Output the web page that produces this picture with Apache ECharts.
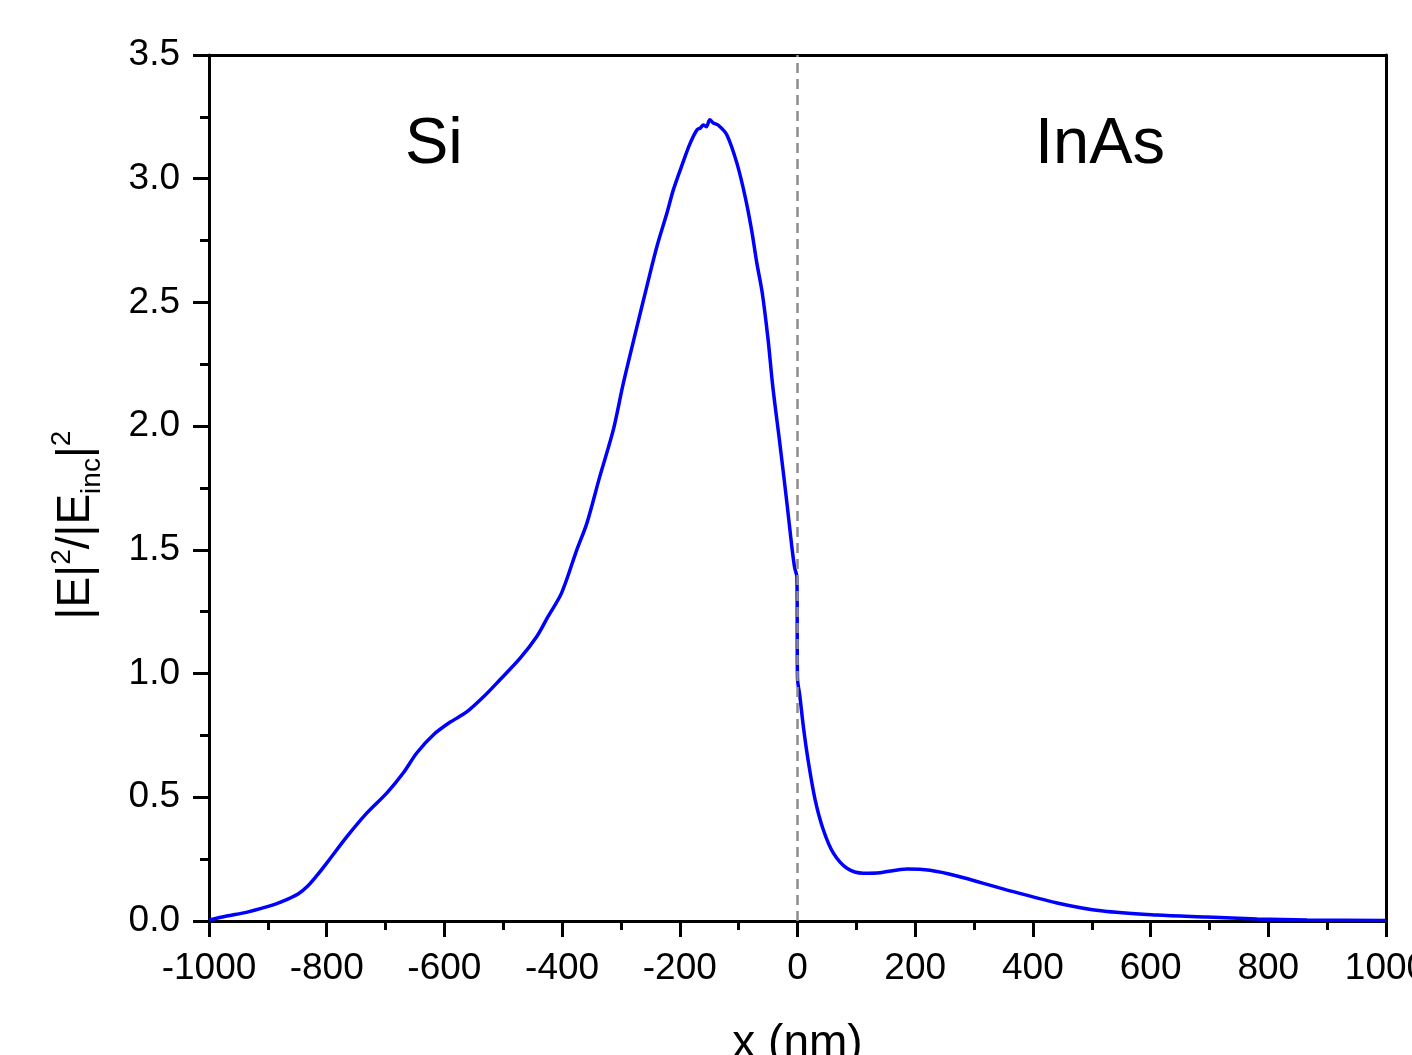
<!DOCTYPE html>
<html>
<head>
<meta charset="utf-8">
<script src="https://cdn.jsdelivr.net/npm/echarts@6/dist/echarts.min.js"></script>
<style>
html,body{margin:0;padding:0;background:#fff;overflow:hidden;}
#chart{width:1412px;height:1055px;}
</style>
</head>
<body>
<div id="chart"></div>
<script>
// Position along the x axis (nm)
var xPos = [-1000, -970, -935, -891, -862, -848, -834, -818, -800, -766, -732, -698, -670, -647, -619, -590, -562, -534, -506, -472, -443, -424, -401, -375, -358, -336, -313, -296, -273, -256, -239, -222, -211, -194, -183, -171, -165, -160, -155, -149, -143, -135, -120, -103, -89, -78, -69, -60, -50, -42, -30, -18, -10, -5, -1, 0, 4, 10, 18, 30, 44, 61, 84, 112, 140, 186, 225, 271, 349, 441, 519, 611, 696, 781, 866, 1000];
// Normalized field intensity |E|^2/|Einc|^2
var intensity = [0.004, 0.02, 0.036, 0.065, 0.093, 0.11, 0.137, 0.18, 0.234, 0.34, 0.436, 0.517, 0.598, 0.679, 0.752, 0.804, 0.845, 0.905, 0.974, 1.06, 1.15, 1.23, 1.325, 1.50, 1.607, 1.796, 1.985, 2.173, 2.40, 2.565, 2.725, 2.86, 2.955, 3.07, 3.14, 3.197, 3.205, 3.217, 3.21, 3.238, 3.225, 3.217, 3.177, 3.063, 2.928, 2.793, 2.658, 2.54, 2.35, 2.16, 1.93, 1.69, 1.52, 1.43, 1.39, 0.98, 0.91, 0.785, 0.65, 0.49, 0.368, 0.274, 0.213, 0.193, 0.195, 0.21, 0.205, 0.182, 0.13, 0.073, 0.04, 0.024, 0.016, 0.008, 0.004, 0.002];
var xTicks = [-1000, -800, -600, -400, -200, 0, 200, 400, 600, 800, 1000];
var yTicks = [0.0, 0.5, 1.0, 1.5, 2.0, 2.5, 3.0, 3.5];
var regionLabels = ['Si', 'InAs'];
var interfaceX = 0;

var seriesData = xPos.map(function (x, i) { return [x, intensity[i]]; });

var chart = echarts.init(document.getElementById('chart'), null, {renderer: 'canvas'});
var font = 'Arial, "Liberation Sans", sans-serif';
var axisLine = {show: true, onZero: false, lineStyle: {color: '#000', width: 3}};

var option = {
  animation: false,
  backgroundColor: '#fff',
  grid: {left: 209, right: 26, top: 55, bottom: 134, containLabel: false, outerBoundsMode: 'none'},
  xAxis: [{
    type: 'value', min: xTicks[0], max: xTicks[xTicks.length - 1], interval: 200,
    position: 'bottom',
    axisLine: axisLine,
    axisTick: {show: true, inside: false, length: 16, lineStyle: {color: '#000', width: 3}},
    minorTick: {show: true, splitNumber: 2, length: 9, lineStyle: {color: '#000', width: 3}},
    splitLine: {show: false},
    axisLabel: {color: '#000', fontSize: 37, fontFamily: font, margin: 29,
      formatter: function (v) { return String(v); }},
    name: 'x (nm)', nameLocation: 'middle', nameGap: 100,
    nameTextStyle: {color: '#000', fontSize: 46, fontFamily: font}
  }, {
    type: 'value', min: xTicks[0], max: xTicks[xTicks.length - 1], position: 'top',
    axisLine: axisLine, axisTick: {show: false}, axisLabel: {show: false}, splitLine: {show: false}
  }],
  yAxis: [{
    type: 'value', min: yTicks[0], max: yTicks[yTicks.length - 1], interval: 0.5,
    position: 'left',
    axisLine: axisLine,
    axisTick: {show: true, inside: false, length: 16, lineStyle: {color: '#000', width: 3}},
    minorTick: {show: true, splitNumber: 2, length: 9, lineStyle: {color: '#000', width: 3}},
    splitLine: {show: false},
    axisLabel: {color: '#000', fontSize: 37, fontFamily: font, margin: 29,
      formatter: function (v) { return v.toFixed(1); }}
  }, {
    type: 'value', min: yTicks[0], max: yTicks[yTicks.length - 1], position: 'right',
    axisLine: axisLine, axisTick: {show: false}, axisLabel: {show: false}, splitLine: {show: false}
  }],
  series: [{
    type: 'line',
    data: seriesData,
    showSymbol: false,
    smooth: 0.3,
    lineStyle: {color: '#0000ff', width: 3.5},
    markLine: {
      silent: true, symbol: 'none',
      label: {show: false},
      lineStyle: {color: '#8c8c8c', type: [10, 6], width: 2.5},
      data: [{xAxis: interfaceX}]
    },
    z: 3
  }],
  graphic: [
    {type: 'text', left: 434 - 29, top: 113, style: {text: regionLabels[0], fontSize: 65, fontFamily: font, fill: '#000'}},
    {type: 'text', left: 1100 - 65, top: 113, style: {text: regionLabels[1], fontSize: 65, fontFamily: font, fill: '#000'}},
    {type: 'text', x: 76, y: 525, rotation: Math.PI / 2,
      style: {
        text: '{m||E|}{s|2}{m|/|E}{b|inc}{m||}{s|2}',
        align: 'center', verticalAlign: 'middle', fill: '#000', font: '46px ' + font,
        rich: {
          m: {fontSize: 46, fontFamily: font, fill: '#000', lineHeight: 60, verticalAlign: 'middle'},
          s: {fontSize: 28, fontFamily: font, fill: '#000', lineHeight: 60, verticalAlign: 'top', padding: [2, 0, 0, 0]},
          b: {fontSize: 28, fontFamily: font, fill: '#000', lineHeight: 60, verticalAlign: 'bottom'}
        }
      }
    }
  ]
};
chart.setOption(option);
</script>
</body>
</html>
